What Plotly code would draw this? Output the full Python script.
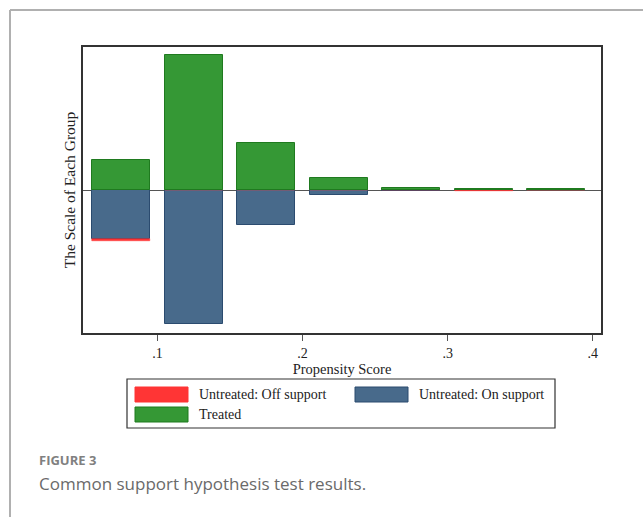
import plotly.graph_objects as go

# ---- data ----
bin_centers = [0.075, 0.125, 0.175, 0.225, 0.275, 0.325, 0.375]
treated = [29.7, 135.0, 47.4, 12.4, 2.4, 1.4, 0.7]
untreated_on = [49.3, 134.0, 35.3, 4.6, 0.5, 0.3, 0.0]
untreated_off = [1.3, 0.0, 0.0, 0.0, 0.0, 0.8, 0.0]
tick_vals = [0.1, 0.2, 0.3, 0.4]
tick_text = [".1", ".2", ".3", ".4"]
series_names = ["Untreated: Off support", "Untreated: On support", "Treated"]

RED, RED_L = "#ff3535", "#e02a2a"
BLUE, BLUE_L = "#486a8b", "#2b4b6f"
GREEN, GREEN_L = "#359835", "#1f7a1f"
SERIF = "Liberation Serif"

fig = go.Figure()
fig.add_trace(go.Bar(x=bin_centers, y=[-v for v in untreated_on], width=0.04,
                     marker=dict(color=BLUE, line=dict(color=BLUE_L, width=1)),
                     name=series_names[1], showlegend=False))
fig.add_trace(go.Bar(x=bin_centers, y=[-v for v in untreated_off], width=0.04,
                     marker=dict(color=RED, line=dict(color=RED, width=0.5)),
                     name=series_names[0], showlegend=False))
fig.add_trace(go.Bar(x=bin_centers, y=treated, width=0.04,
                     marker=dict(color=GREEN, line=dict(color=GREEN_L, width=1)),
                     name=series_names[2], showlegend=False))

shapes = []
annotations = []


def px_x(px):
    return (px - 83) / 518


def px_y(py):
    return (333 - py) / 286


# outer figure frame (top and left rules)
shapes.append(dict(type="line", xref="paper", yref="paper", x0=px_x(10), x1=px_x(643),
                   y0=px_y(10), y1=px_y(10), line=dict(color="#b0b0b0", width=2)))
shapes.append(dict(type="line", xref="paper", yref="paper", x0=px_x(10), x1=px_x(10),
                   y0=px_y(517), y1=px_y(10), line=dict(color="#b0b0b0", width=2)))

# manual legend (box + swatches)
shapes.append(dict(type="rect", xref="paper", yref="paper",
                   x0=px_x(127), x1=px_x(555), y0=px_y(428), y1=px_y(379),
                   line=dict(color="#333333", width=1.2), fillcolor="white"))
legend_items = [
    (series_names[0], RED, RED, 135, 387),
    (series_names[1], BLUE, BLUE_L, 355, 387),
    (series_names[2], GREEN, GREEN_L, 135, 407),
]
for name, fc, lc, lx, ly in legend_items:
    shapes.append(dict(type="rect", xref="paper", yref="paper",
                       x0=px_x(lx), x1=px_x(lx + 53), y0=px_y(ly + 15), y1=px_y(ly),
                       line=dict(color=lc, width=1), fillcolor=fc))
    annotations.append(dict(text=name, xref="paper", yref="paper",
                            x=px_x(lx + 62), y=px_y(ly + 7.5), xanchor="left", yanchor="middle",
                            showarrow=False, font=dict(family=SERIF, size=14, color="#222222")))

# caption
annotations.append(dict(text="<b>FIGURE 3</b>", xref="paper", yref="paper",
                        x=px_x(37), y=px_y(460), xanchor="left", yanchor="middle",
                        showarrow=False, font=dict(family="Open Sans", size=13, color="#808080")))
annotations.append(dict(text="Common support hypothesis test results.", xref="paper", yref="paper",
                        x=px_x(37), y=px_y(483), xanchor="left", yanchor="middle",
                        showarrow=False, font=dict(family="Open Sans", size=17, color="#6a6a6a")))

fig.update_layout(
    width=643, height=517,
    margin=dict(l=83, r=42, t=47, b=184),
    paper_bgcolor="white", plot_bgcolor="white",
    barmode="relative", bargap=0,
    shapes=shapes, annotations=annotations,
    font=dict(family=SERIF, color="#222222"),
    xaxis=dict(range=[0.0486, 0.4057], tickvals=tick_vals, ticktext=tick_text,
               ticks="outside", ticklen=6, tickcolor="#555555", tickwidth=1,
               tickfont=dict(family=SERIF, size=14, color="#222222"),
               showgrid=False, zeroline=False,
               showline=True, linecolor="#333333", linewidth=1.5, mirror=True,
               title=dict(text="Propensity Score", standoff=0,
                          font=dict(family=SERIF, size=14.5, color="#222222"))),
    yaxis=dict(range=[-143, 143], showticklabels=False, ticks="", showgrid=False,
               zeroline=True, zerolinecolor="#555555", zerolinewidth=1,
               showline=True, linecolor="#333333", linewidth=1.5, mirror=True,
               title=dict(text="The Scale of Each Group", standoff=2,
                          font=dict(family=SERIF, size=15.5, color="#222222"))),
)

fig.write_html("out.html")
